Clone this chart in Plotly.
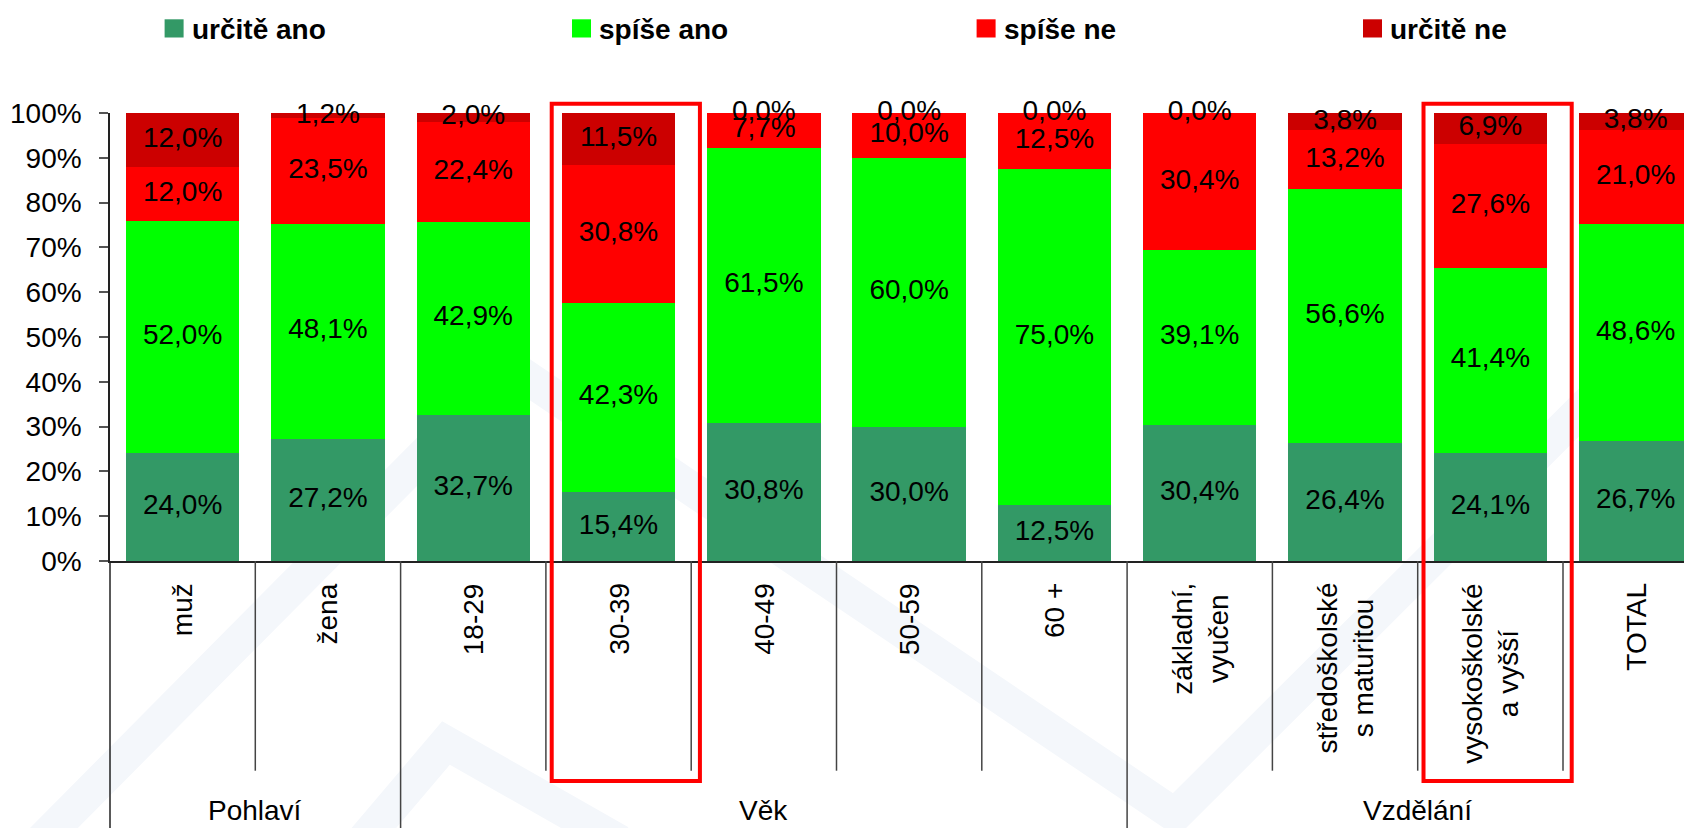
import plotly.graph_objects as go

# --- data ---
categories = ["muž", "žena", "18-29", "30-39", "40-49", "50-59", "60 +",
              "základní,<br>vyučen", "středoškolské<br>s maturitou",
              "vysokoškolské<br>a vyšší", "TOTAL"]
groups = ["Pohlaví", "Pohlaví", "Věk", "Věk", "Věk", "Věk", "Věk",
          "Vzdělání", "Vzdělání", "Vzdělání", "Vzdělání"]
series_names = ["určitě ano", "spíše ano", "spíše ne", "určitě ne"]
urcite_ano = [24.0, 27.2, 32.7, 15.4, 30.8, 30.0, 12.5, 30.4, 26.4, 24.1, 26.7]
spise_ano = [52.0, 48.1, 42.9, 42.3, 61.5, 60.0, 75.0, 39.1, 56.6, 41.4, 48.6]
spise_ne = [12.0, 23.5, 22.4, 30.8, 7.7, 10.0, 12.5, 30.4, 13.2, 27.6, 21.0]
urcite_ne = [12.0, 1.2, 2.0, 11.5, 0.0, 0.0, 0.0, 0.0, 3.8, 6.9, 3.8]
highlighted = ["30-39", "vysokoškolské<br>a vyšší"]
y_ticks = list(range(0, 101, 10))

series_values = [urcite_ano, spise_ano, spise_ne, urcite_ne]
colors = ["#339966", "#00FF00", "#FF0000", "#CC0000"]

# --- geometry ---
# the page body has an 8px margin, so the figure is 8px smaller and every
# position below is given in page pixels and shifted back by OFF
OFF = 8
W, H = 1692 - OFF, 828 - OFF
L, T, B = 110 - OFF, 113 - OFF, 267
plot_w = W - L
plot_h = H - T - B
cat_px = 145.3
x_lo = -0.5
x_hi = x_lo + plot_w / cat_px
FONT = "Liberation Sans, Arial, sans-serif"


def xp(v):
    # category units -> paper
    return (v - x_lo) / (x_hi - x_lo)


def xpx(px):
    # page pixel from left -> paper
    return (px - OFF - L) / plot_w


def yp(py):
    # page pixel from top -> paper
    return (H - B - (py - OFF)) / plot_h


fig = go.Figure()

# faint watermark in the background
def wm_path(points):
    return "M " + " L ".join(f"{xpx(a):.4f},{yp(b):.4f}" for a, b in points)

for pts in ([(40, 842), (511, 367), (1175, 815), (1720, 272)],
            [(362, 842), (446, 743), (620, 842)]):
    fig.add_shape(type="path", path=wm_path(pts), xref="paper", yref="paper",
                  line=dict(color="#f4f7fb", width=34), layer="below")

# stacked bars
for name, vals, col in zip(series_names, series_values, colors):
    fig.add_trace(go.Bar(x=categories, y=vals, name=name, marker_color=col,
                         marker_line_width=0, showlegend=False, hoverinfo="skip"))

# value labels at segment midpoints
base = [0.0] * len(categories)
for vals in series_values:
    mids = [b + v / 2 for b, v in zip(base, vals)]
    labels = [f"{v:.1f}".replace(".", ",") + "%" for v in vals]
    fig.add_trace(go.Scatter(x=categories, y=mids, mode="text", text=labels,
                             textposition="middle center",
                             textfont=dict(size=28, color="black", family=FONT),
                             cliponaxis=False, showlegend=False, hoverinfo="skip"))
    base = [b + v for b, v in zip(base, vals)]

# category separators below the axis
axis_py = 561
inner_bottom = 770.7
for i in range(len(categories) - 1):
    bottom = 828 if groups[i] != groups[i + 1] else inner_bottom
    fig.add_shape(type="line", xref="paper", yref="paper",
                  x0=xp(i + 0.5), x1=xp(i + 0.5), y0=yp(axis_py), y1=yp(bottom),
                  line=dict(color="#444", width=1.5))
fig.add_shape(type="line", xref="paper", yref="paper", x0=0, x1=0,
              y0=yp(axis_py), y1=yp(828), line=dict(color="#222", width=1.5))

# rotated category labels
for i, c in enumerate(categories):
    fig.add_annotation(x=i, xref="x", y=yp(581), yref="paper", text=c,
                       textangle=-90, xanchor="center", yanchor="top",
                       align="center", showarrow=False,
                       font=dict(size=28, color="black", family=FONT))

# group labels
for g in dict.fromkeys(groups):
    idx = [i for i, gg in enumerate(groups) if gg == g]
    fig.add_annotation(x=(idx[0] + idx[-1]) / 2, xref="x", y=yp(810), yref="paper",
                       text=g, showarrow=False, xanchor="center", yanchor="middle",
                       font=dict(size=28, color="black", family=FONT))

# red highlight boxes
for h in highlighted:
    i = categories.index(h)
    fig.add_shape(type="rect", xref="paper", yref="paper",
                  x0=xp(i - 0.46), x1=xp(i + 0.56), y0=yp(781), y1=yp(103.7),
                  line=dict(color="#FF0000", width=4), fillcolor="rgba(0,0,0,0)")

# legend drawn manually
legend_px = [164.6, 572, 976.6, 1363]
for name, col, lx in zip(series_names, colors, legend_px):
    fig.add_shape(type="rect", xref="paper", yref="paper",
                  x0=xpx(lx), x1=xpx(lx + 19), y0=yp(37.5), y1=yp(19.3),
                  fillcolor=col, line_width=0)
    fig.add_annotation(x=xpx(lx + 25), y=yp(29), xref="paper", yref="paper",
                       text=f"<b>{name}</b>", showarrow=False,
                       xanchor="left", yanchor="middle",
                       font=dict(size=28, color="black", family=FONT))

fig.update_layout(
    width=W, height=H,
    margin=dict(l=L, r=0, t=T, b=B, pad=0),
    barmode="stack", bargap=0.22,
    paper_bgcolor="white", plot_bgcolor="rgba(0,0,0,0)",
    font=dict(family=FONT, size=28, color="black"),
    showlegend=False,
    xaxis=dict(type="category", range=[x_lo, x_hi], showline=True,
               linecolor="#222", linewidth=1.5, showticklabels=False,
               ticks="", showgrid=False, zeroline=False, fixedrange=True),
    yaxis=dict(range=[0, 100], tickmode="array", tickvals=y_ticks,
               ticktext=[f"{t}%" for t in y_ticks],
               showline=True, linecolor="#222", linewidth=1.5, ticks="outside",
               ticklen=9, tickwidth=1.5, tickcolor="#555", showgrid=False,
               zeroline=False, ticklabelstandoff=12,
               tickfont=dict(size=28, color="black", family=FONT)),
)

fig.write_html("out.html")
